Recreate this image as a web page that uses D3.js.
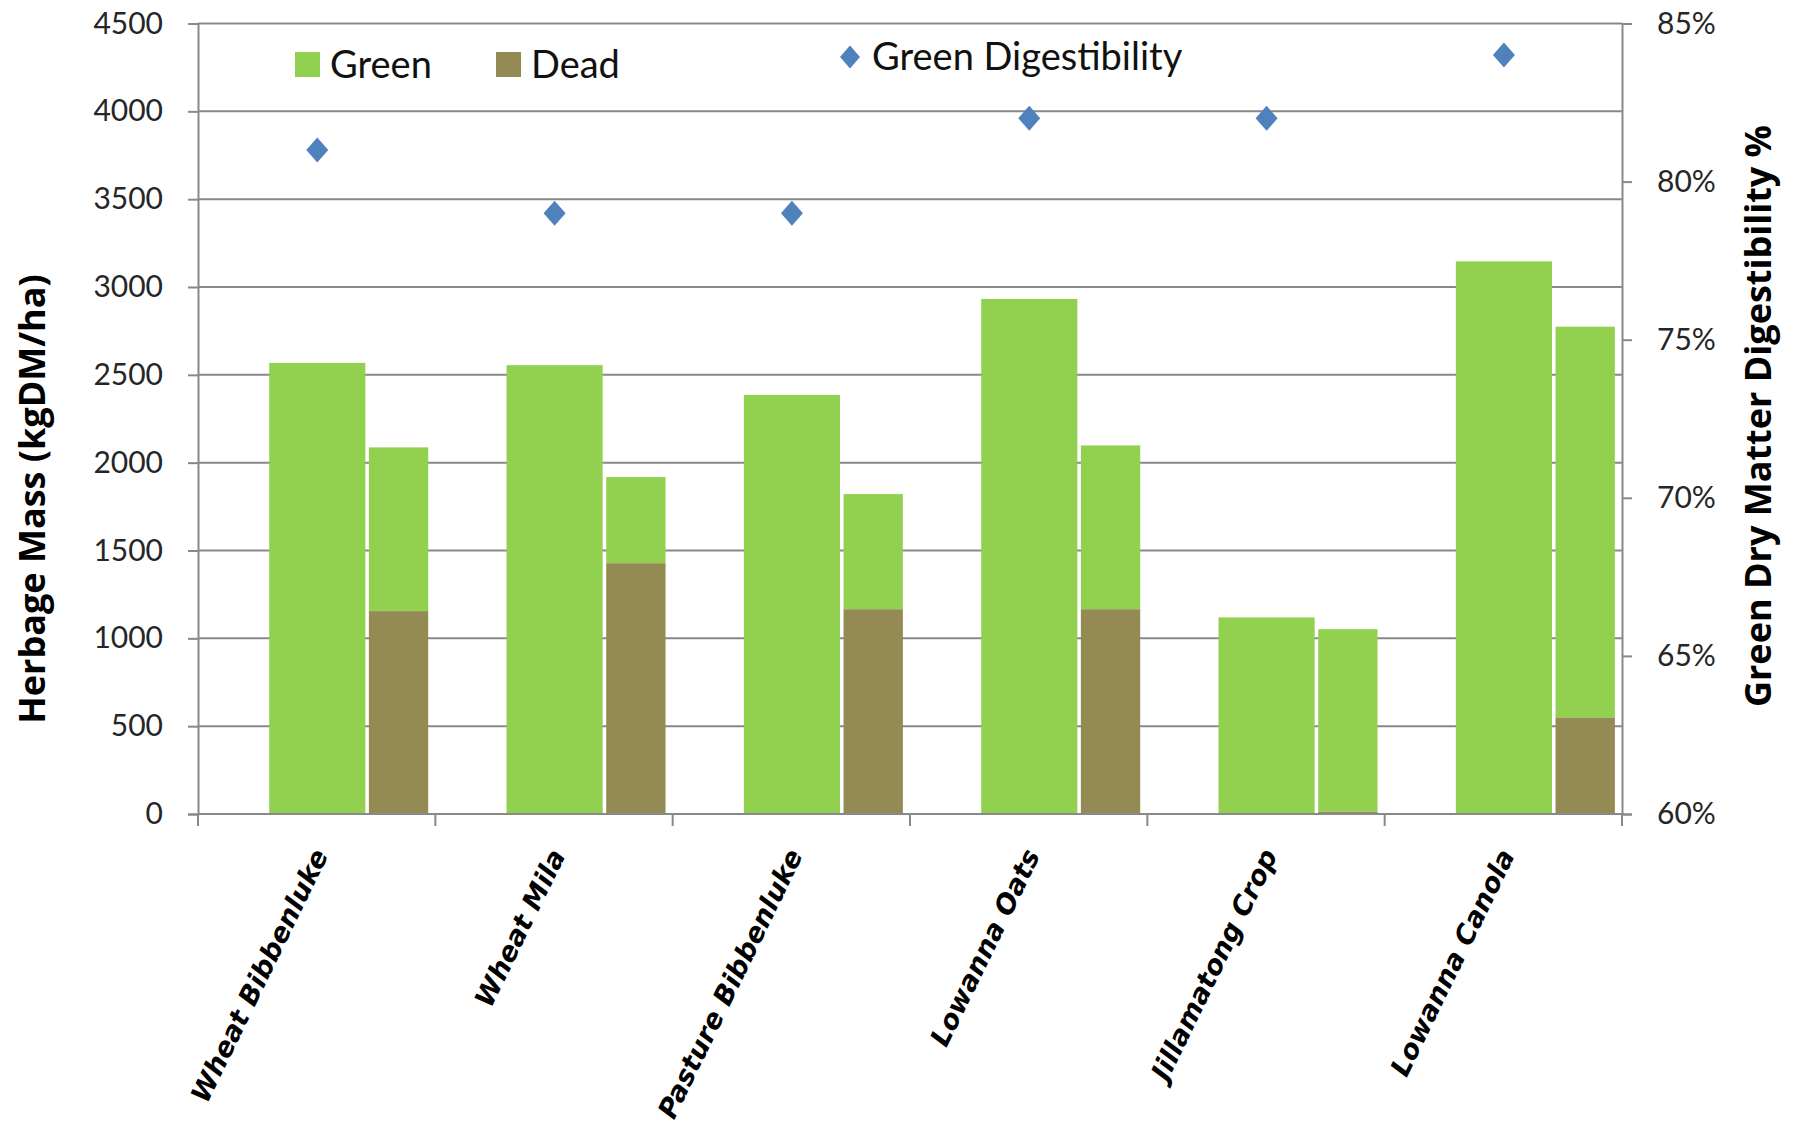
<!DOCTYPE html>
<html>
<head>
<meta charset="utf-8">
<script src="https://cdn.jsdelivr.net/npm/d3@7"></script>
<style>
  html, body { margin: 0; padding: 0; background: #ffffff; }
  svg { display: block; }
</style>
</head>
<body>
<svg id="chart" width="1796" height="1129"></svg>
<script>
// ---------- data ----------
const categories = ["Wheat Bibbenluke", "Wheat Mila", "Pasture Bibbenluke", "Lowanna Oats", "Jillamatong Crop", "Lowanna Canola"];
// first column: green herbage mass (kgDM/ha)
const greenMass = [2568, 2555, 2386, 2932, 1119, 3146];
// second column: stacked dead + green herbage mass (kgDM/ha)
const secondDead = [1155, 1428, 1166, 1166, 14, 550];
const secondGreen = [932, 490, 655, 932, 1038, 2224];
// green dry matter digestibility
const digestibility = [0.81, 0.79, 0.79, 0.82, 0.82, 0.84];
const leftTicks = [0, 500, 1000, 1500, 2000, 2500, 3000, 3500, 4000, 4500];
const rightTicks = [0.60, 0.65, 0.70, 0.75, 0.80, 0.85];
const legendBars = ["Green", "Dead"];
const legendPoint = "Green Digestibility";
const leftTitle = "Herbage Mass (kgDM/ha)";
const rightTitle = "Green Dry Matter Digestibility %";

// ---------- styles ----------
const GREEN = "#92D050", DEAD = "#948A54", BLUE = "#4F81BD", GRID = "#898989", TXT = "#262626";
const plot = { left: 198, right: 1622, top: 23.5, bottom: 814 };

const svg = d3.select("#chart");
svg.append("rect").attr("width", 1796).attr("height", 1129).attr("fill", "#fff");

const x = d3.scaleBand().domain(categories).range([plot.left, plot.right]).padding(0);
const y = d3.scaleLinear().domain([0, 4500]).range([plot.bottom, plot.top]);
const y2 = d3.scaleLinear().domain([0.60, 0.85]).range([plot.bottom, plot.top]);
const bw = x.bandwidth();

// gridlines
svg.append("g").selectAll("line").data(leftTicks).join("line")
  .attr("x1", plot.left).attr("x2", plot.right)
  .attr("y1", d => y(d)).attr("y2", d => y(d))
  .attr("stroke", GRID).attr("stroke-width", 2);

// left axis
const gL = svg.append("g").attr("transform", `translate(${plot.left},0)`)
  .call(d3.axisLeft(y).tickValues(leftTicks).tickFormat(d3.format("d")).tickSizeOuter(0).tickSize(10).tickPadding(25));
gL.select(".domain").attr("stroke", GRID).attr("stroke-width", 2);
gL.selectAll(".tick line").attr("stroke", GRID).attr("stroke-width", 2);
gL.selectAll(".tick text").attr("font-family", "Lato, 'Open Sans', sans-serif").attr("font-size", 30).attr("fill", TXT);

// right axis
const gR = svg.append("g").attr("transform", `translate(${plot.right},0)`)
  .call(d3.axisRight(y2).tickValues(rightTicks).tickFormat(d3.format(".0%")).tickSizeOuter(0).tickSize(10).tickPadding(25));
gR.select(".domain").attr("stroke", GRID).attr("stroke-width", 2);
gR.selectAll(".tick line").attr("stroke", GRID).attr("stroke-width", 2);
gR.selectAll(".tick text").attr("font-family", "Lato, 'Open Sans', sans-serif").attr("font-size", 30).attr("fill", TXT);

// bars: first column (green)
svg.append("g").selectAll("rect").data(categories).join("rect")
  .attr("x", (c) => x(c) + bw * 0.30)
  .attr("width", bw * 0.405)
  .attr("y", (c, i) => y(greenMass[i]))
  .attr("height", (c, i) => y(0) - y(greenMass[i]))
  .attr("fill", GREEN);

// bars: second column (stacked dead + green)
const stackData = categories.map((c, i) => ({ cat: c, Dead: secondDead[i], Green: secondGreen[i] }));
const stacked = d3.stack().keys(["Dead", "Green"])(stackData);
svg.append("g").selectAll("g").data(stacked).join("g")
  .attr("fill", s => s.key === "Dead" ? DEAD : GREEN)
  .selectAll("rect").data(s => s).join("rect")
  .attr("x", d => x(d.data.cat) + bw * 0.72)
  .attr("width", bw * 0.25)
  .attr("y", d => y(d[1]))
  .attr("height", d => y(d[0]) - y(d[1]));

// bottom axis (category)
const gB = svg.append("g").attr("transform", `translate(0,${plot.bottom})`);
gB.append("line").attr("x1", plot.left).attr("x2", plot.right).attr("stroke", GRID).attr("stroke-width", 2);
const bounds = categories.map(c => x(c)).concat([plot.right]);
gB.selectAll("line.tk").data(bounds).join("line").attr("class", "tk")
  .attr("x1", d => d).attr("x2", d => d).attr("y1", 0).attr("y2", 12)
  .attr("stroke", GRID).attr("stroke-width", 2);
gB.selectAll("text").data(categories).join("text")
  .attr("transform", c => `translate(${x(c) + bw / 2 + 12},${41}) rotate(-64)`)
  .attr("text-anchor", "end")
  .attr("font-family", "'DejaVu Sans', Verdana, sans-serif")
  .attr("font-weight", "bold").attr("font-style", "italic")
  .attr("font-size", 27).attr("fill", "#000")
  .text(c => c);

// diamonds
function diamond(cx, cy, hw, hh) {
  const p = d3.path();
  p.moveTo(cx, cy - hh); p.lineTo(cx + hw, cy); p.lineTo(cx, cy + hh); p.lineTo(cx - hw, cy); p.closePath();
  return p.toString();
}
svg.append("g").selectAll("path").data(categories).join("path")
  .attr("d", (c, i) => diamond(x(c) + bw * 0.5025, y2(digestibility[i]), 11, 12.5))
  .attr("fill", BLUE);

// legend
const lg = svg.append("g").attr("font-family", "Lato, 'Open Sans', sans-serif").attr("font-size", 38).attr("fill", "#111");
const legX = [295, 496];
legendBars.forEach((k, i) => {
  lg.append("rect").attr("x", legX[i]).attr("y", 52).attr("width", 25).attr("height", 25).attr("fill", k === "Green" ? GREEN : DEAD);
  lg.append("text").attr("x", legX[i] + 35).attr("y", 78).text(k);
});
lg.append("path").attr("d", diamond(850, 57, 10, 11.5)).attr("fill", BLUE);
lg.append("text").attr("x", 872).attr("y", 70).text(legendPoint);

// axis titles
svg.append("text").attr("transform", `translate(32,499) rotate(-90)`)
  .attr("text-anchor", "middle").attr("dy", "0.35em")
  .attr("font-family", "'Open Sans', sans-serif").attr("font-weight", "bold").attr("font-size", 36).attr("fill", "#000")
  .text(leftTitle);
svg.append("text").attr("transform", `translate(1758,416) rotate(-90)`)
  .attr("text-anchor", "middle").attr("dy", "0.35em")
  .attr("font-family", "'Open Sans', sans-serif").attr("font-weight", "bold").attr("font-size", 36).attr("fill", "#000")
  .text(rightTitle);
</script>
</body>
</html>
